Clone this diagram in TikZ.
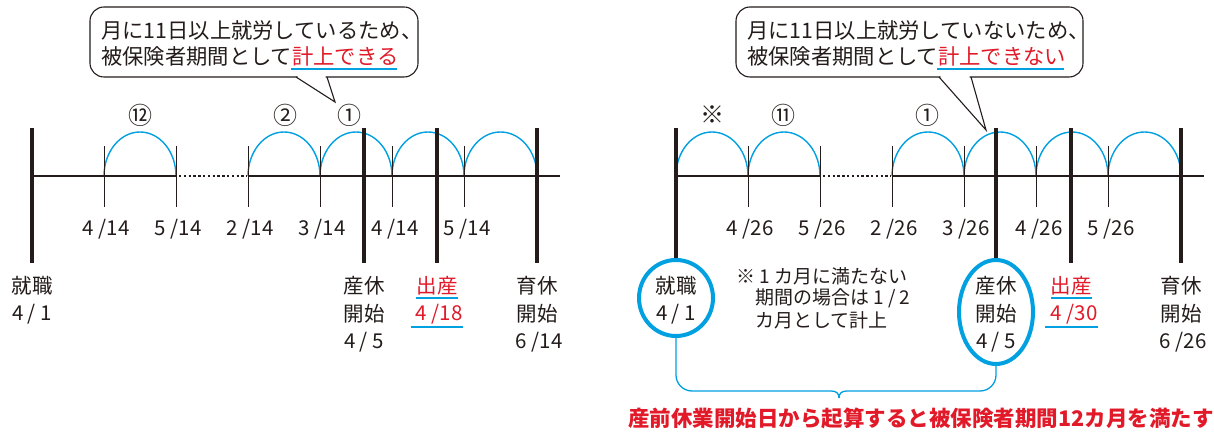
\documentclass[tikz,border=0pt]{standalone}
\usepackage{fontspec}
\setmainfont{Noto Sans CJK JP}
\usetikzlibrary{shapes.geometric}
\definecolor{myblue}{RGB}{0,160,225}
\definecolor{myred}{RGB}{225,25,40}
\definecolor{ink}{RGB}{35,28,26}
\begin{document}
\begin{tikzpicture}[x=1pt,y=-1pt,
  bar/.style={line width=3.6pt, draw=ink},
  tickst/.style={line width=1pt, draw=ink},
  axisst/.style={line width=1.3pt, draw=ink},
  dotst/.style={line width=1.3pt, draw=ink, dash pattern=on 2.4pt off 2.4pt},
  arcst/.style={line width=1.4pt, draw=myblue},
  lbl/.style={font=\fontsize{20.5}{24}\selectfont, text=ink, inner sep=0pt},
  rlbl/.style={font=\fontsize{20.5}{24}\selectfont, text=myred, inner sep=0pt},
  num/.style={font=\fontsize{24}{26}\selectfont, text=ink, inner sep=0pt},
  call/.style={font=\fontsize{21.3}{25}\selectfont, text=ink, inner sep=0pt, anchor=west},
  callbox/.style={draw=ink, line width=1.1pt, fill=white, rounded corners=14},
  uline/.style={draw=myblue, line width=1.1pt},
  note/.style={font=\fontsize{19}{22}\selectfont, text=ink, inner sep=0pt, anchor=west},
  ring/.style={draw=myblue, line width=4pt, ellipse, inner sep=0pt},
  bracest/.style={draw=myblue, line width=1.3pt},
]
\useasboundingbox (0,0) rectangle (1214,435);

% ================= LEFT PANEL =================
% arcs
\foreach \a/\b in {104/176,248/320,320/392,392/464,464/537}{
  \pgfmathsetmacro{\r}{(\b-\a)/2}
  \draw[arcst] (\a,176) arc[start angle=180, end angle=360, x radius=\r, y radius=44];
}
% axis
\draw[axisst] (32,176) -- (176,176);
\draw[dotst] (179,176) -- (247,176);
\draw[axisst] (248,176) -- (560,176);
% ticks
\foreach \x in {104,176,248,320,392,464}{
  \draw[tickst] (\x,146) -- (\x,207);
}
% bars
\foreach \x in {32,364,437,537}{
  \draw[bar] (\x,128) -- (\x,263);
}
% date labels
\foreach \x/\t in {106/{4 /14},178/{5 /14},250/{2 /14},322/{3 /14},395/{4 /14},467/{5 /14}}{
  \node[lbl] at (\x,229) {\t};
}
% circled numbers
\node[num] (n12) at (140,115) {⑫};
\node[num] (n2L) at (285,115) {②};
\node[num] (n1L) at (349,115) {①};
% bottom labels
\node[lbl] (jL1) at (32,286) {就職};
\node[lbl] (jL2) at (32,314) {4 / 1};
\node[lbl] (sL1) at (364,286) {産休};
\node[lbl] (sL2) at (364,314) {開始};
\node[lbl] (sL3) at (364,342) {4 / 5};
\node[rlbl] (bL1) at (437,286) {出産};
\node[rlbl] (bL2) at (439,314) {4 /18};
\draw[uline] (416,298) -- (458,298);
\draw[uline] (411,327) -- (463,327);
\node[lbl] (iL1) at (537,286) {育休};
\node[lbl] (iL2) at (537,314) {開始};
\node[lbl] (iL3) at (539,342) {6 /14};
% callout
\draw[callbox] (90,7) rectangle (418,77);
\coordinate (tLa) at (296,77);
\coordinate (tLb) at (327,77);
\coordinate (tLt) at (335,102);
\fill[white] (297.5,75.5) -- (297.5,78) -- (tLt) -- (325.5,78) -- (325.5,75.5) -- cycle;
\draw[draw=ink, line width=1.1pt, line join=miter] (tLa) -- (tLt) -- (tLb);
\node[call] (cL1) at (101,30) {月に11日以上就労しているため、};
\node[call] (cL2) at (101,56) {被保険者期間として\textcolor{myred}{計上できる}};
\draw[uline] (291,69) -- (397,69);

% ================= RIGHT PANEL =================
\foreach \a/\b in {676/748,748/820,892/964,964/1036,1036/1108,1108/1181}{
  \pgfmathsetmacro{\r}{(\b-\a)/2}
  \draw[arcst] (\a,176) arc[start angle=180, end angle=360, x radius=\r, y radius=44];
}
\draw[axisst] (676,176) -- (820,176);
\draw[dotst] (823,176) -- (891,176);
\draw[axisst] (892,176) -- (1204,176);
\foreach \x in {748,820,892,964,1036,1108}{
  \draw[tickst] (\x,146) -- (\x,207);
}
% rings
\node[ring, minimum width=74pt, minimum height=76pt] (ringL) at (676,298) {};
\node[ring, minimum width=74pt, minimum height=104pt] (ringR) at (996,312) {};
% bars
\draw[bar] (676,128) -- (ringL.north);
\draw[bar] (996,128) -- (ringR.north);
\foreach \x in {1071,1181}{
  \draw[bar] (\x,128) -- (\x,263);
}
\foreach \x/\t in {750/{4 /26},822/{5 /26},894/{2 /26},966/{3 /26},1039/{4 /26},1111/{5 /26}}{
  \node[lbl] at (\x,229) {\t};
}
\node[num] (nx) at (712,115) {※};
\node[num] (n11) at (783,115) {⑪};
\node[num] (n1R) at (927,115) {①};
% labels
\node[lbl] (jR1) at (676,286) {就職};
\node[lbl] (jR2) at (676,314) {4 / 1};
\node[lbl] (sR1) at (996,286) {産休};
\node[lbl] (sR2) at (996,314) {開始};
\node[lbl] (sR3) at (996,342) {4 / 5};
\node[rlbl] (bR1) at (1071,286) {出産};
\node[rlbl] (bR2) at (1074,314) {4 /30};
\draw[uline] (1051,298) -- (1092,298);
\draw[uline] (1045,327) -- (1098,327);
\node[lbl] (iR1) at (1181,286) {育休};
\node[lbl] (iR2) at (1181,314) {開始};
\node[lbl] (iR3) at (1183,342) {6 /26};
% note
\node[note] (nt1) at (736,276) {※ 1 カ月に満たない};
\node[note] (nt2) at (755,298) {期間の場合は 1 / 2};
\node[note] (nt3) at (755,320) {カ月として計上};
% brace
\draw[bracest, rounded corners=16] (ringL.south) -- (676,391) -- (831,391);
\draw[bracest] (831,391) .. controls (836,391) and (839,393) .. (839,398);
\draw[bracest] (847,391) .. controls (842,391) and (839,393) .. (839,398);
\draw[bracest, rounded corners=16] (847,391) -- (996,391) -- (ringR.south);
\node[font=\fontsize{21.5}{24}\selectfont\bfseries, text=myred, inner sep=0pt] (sum) at (921,418) {産前休業開始日から起算すると被保険者期間12カ月を満たす};
% callout
\draw[callbox] (736,7) rectangle (1083,77);
\coordinate (tRa) at (939,77);
\coordinate (tRb) at (971,77);
\coordinate (tRt) at (986,130);
\fill[white] (940.5,75.5) -- (940.5,78) -- (tRt) -- (969.5,78) -- (969.5,75.5) -- cycle;
\draw[draw=ink, line width=1.1pt, line join=miter] (tRa) -- (tRt) -- (tRb);
\node[call] (cR1) at (747,30) {月に11日以上就労していないため、};
\node[call] (cR2) at (747,56) {被保険者期間として\textcolor{myred}{計上できない}};
\draw[uline] (937,69) -- (1064,69);
\end{tikzpicture}
\end{document}
